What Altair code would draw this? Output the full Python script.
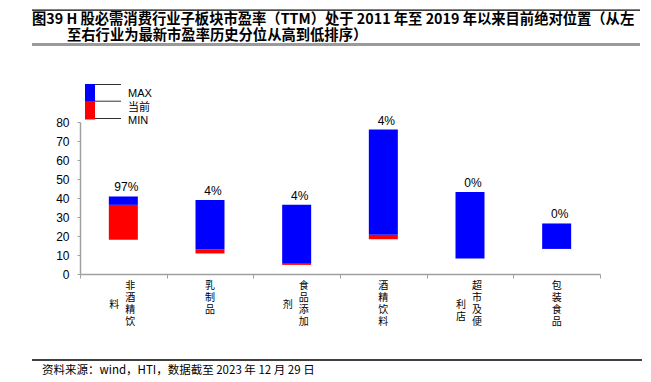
import altair as alt
import pandas as pd

categories = ["非酒精饮料", "乳制品", "食品添加剂", "酒精饮料", "超市及便利店", "包装食品"]
pe_max = [40.8, 39.0, 36.5, 76.0, 43.2, 26.6]
pe_cur = [36.4, 12.9, 5.8, 20.6, 8.1, 13.2]
pe_min = [18.0, 10.8, 4.8, 18.3, 8.1, 13.2]
pct_labels = ["97%", "4%", "4%", "4%", "0%", "0%"]

title1 = "图39 H 股必需消费行业子板块市盈率（TTM）处于 2011 年至 2019 年以来目前绝对位置（从左"
title2 = "至右行业为最新市盈率历史分位从高到低排序）"
source = "资料来源：wind，HTI，数据截至 2023 年 12 月 29 日"
legend_items = ["MAX", "当前", "MIN"]

df = pd.DataFrame({
    "cat": categories,
    "max": pe_max,
    "cur": pe_cur,
    "min": pe_min,
    "pct": pct_labels,
})
df["col1"] = ["\n".join(c[:4]) for c in categories]
df["col2"] = ["\n".join(c[4:]) for c in categories]
df["two"] = [len(c) > 4 for c in categories]

CJK = "Noto Sans CJK SC"
LAT = "Liberation Sans"

x_enc = alt.X(
    "cat:N", sort=categories, title=None,
    scale=alt.Scale(paddingInner=0, paddingOuter=0),
    axis=alt.Axis(labels=False, ticks=True, tickBand="extent", tickSize=4,
                  tickColor="#a0a0a0", domainColor="#a0a0a0", domainWidth=1.5),
)
y_scale = alt.Scale(domain=[0, 80], nice=False, zero=True)
y_axis = alt.Axis(values=list(range(0, 81, 10)), tickSize=3, tickColor="#a0a0a0",
                  domainColor="#a0a0a0", domainWidth=1.5, labelPadding=8, grid=False,
                  labelFont=LAT, labelFontSize=12, labelColor="#000000")

base = alt.Chart(df)

red = base.mark_bar(color="#ff0000", size=29).encode(
    x=x_enc,
    y=alt.Y("min:Q", scale=y_scale, axis=y_axis, title=None),
    y2="cur:Q",
)
blue = base.mark_bar(color="#0000ff", size=29).encode(
    x=x_enc,
    y=alt.Y("cur:Q", scale=y_scale, axis=y_axis, title=None),
    y2="max:Q",
)
pct = base.mark_text(dy=-9, dx=3, fontSize=12, font=LAT, baseline="middle", color="#000").encode(
    x=x_enc,
    y=alt.Y("max:Q", scale=y_scale, axis=y_axis, title=None),
    text="pct:N",
)

lab_common = dict(lineBreak="\n", lineHeight=12, fontSize=10, font=CJK, color="#000")
lab_r2 = base.transform_filter("datum.two").mark_text(dx=7, baseline="top", **lab_common).encode(
    x=x_enc, y=alt.value(159), text="col1:N")
lab_r1 = base.transform_filter("!datum.two").mark_text(dx=0, baseline="top", **lab_common).encode(
    x=x_enc, y=alt.value(159), text="col1:N")
lab_l = base.transform_filter("datum.two").mark_text(dx=-9, baseline="middle", **lab_common).encode(
    x=x_enc, y=alt.value(183), text="col2:N")

one = alt.Chart(pd.DataFrame({"a": [0]}))


def hrule(x1, x2, y, color, w):
    return one.mark_rule(color=color, strokeWidth=w).encode(
        x=alt.value(x1), x2=alt.value(x2), y=alt.value(y))


def txt(s, x, y, size, font, weight="normal", align="left"):
    return one.mark_text(align=align, baseline="middle", fontSize=size, font=font,
                         fontWeight=weight, color="#000").encode(
        x=alt.value(x), y=alt.value(y), text=alt.value(s))


deco = [
    one.mark_rect(color="#000000").encode(x=alt.value(-48), x2=alt.value(560),
                                          y=alt.value(-112.5), y2=alt.value(-111.3)),
    txt(title1, -48, -102.5, 14.3, CJK, "bold"),
    txt(title2, -13, -86.5, 14.3, CJK, "bold"),
    hrule(-48, 560, -77.5, "#9a9a9a", 3),
    one.mark_rect(color="#0000ff").encode(x=alt.value(5), x2=alt.value(15),
                                          y=alt.value(-38), y2=alt.value(-21)),
    one.mark_rect(color="#ff0000").encode(x=alt.value(5), x2=alt.value(15),
                                          y=alt.value(-21), y2=alt.value(-2.5)),
    hrule(15, 41, -37.5, "#303030", 1),
    hrule(15, 41, -20.8, "#303030", 1),
    hrule(15, 41, -3.5, "#303030", 1),
    txt(legend_items[0], 48, -28.5, 11, LAT),
    txt(legend_items[1], 48, -14.5, 11, CJK),
    txt(legend_items[2], 48, -0.8, 11, LAT),
    hrule(-48, 562, 238, "#000000", 1.5),
    txt(source, -38, 249, 11.5, CJK),
]

chart = alt.layer(red, blue, pct, lab_r2, lab_r1, lab_l, *deco).properties(
    width=520, height=152,
    autosize=alt.AutoSizeParams(type="none"),
    padding={"left": 72, "top": 114, "right": 43, "bottom": 104},
).configure_view(stroke=None)

chart.save("out.html", embed_options={"renderer": "svg", "actions": False})
